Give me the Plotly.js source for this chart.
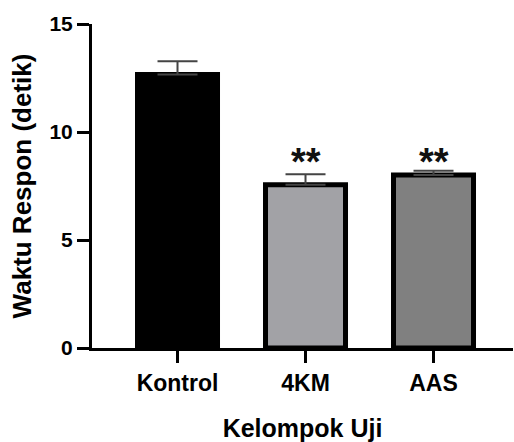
<!DOCTYPE html>
<html><head><meta charset="utf-8">
<script src="https://cdn.plot.ly/plotly-3.0.1.min.js"></script>
<style>html,body{margin:0;padding:0;background:#fff}#chart{width:514px;height:442px}</style>
</head><body><div id="chart"></div>
<script>
const categories = ['Kontrol', '4KM', 'AAS'];
const meanValues = [12.66, 7.56, 8.01];
const errorValues = [0.62, 0.48, 0.20];
const significance = ['', '**', '**'];
const significanceLevel = [8.62, 8.62, 8.62];
const yTickValues = [0, 5, 10, 15];
const yTickLabels = ['0', '5', '10', '15'];
const barColors = ['#000000', '#a2a2a6', '#808080'];

const FONT = 'Liberation Sans, Arial, sans-serif';

const trace = {
  type: 'bar',
  x: categories,
  y: meanValues,
  width: 0.625,
  marker: { color: barColors, line: { color: '#000000', width: 5 } },
  error_y: {
    type: 'data', array: errorValues, arrayminus: categories.map(() => 0),
    symmetric: false, color: '#444444', thickness: 2, width: 20
  },
  hoverinfo: 'none'
};

const annotations = categories.map((c, i) => ({
  x: c, y: significanceLevel[i], xref: 'x', yref: 'y',
  text: significance[i], showarrow: false,
  font: { family: FONT, size: 38, color: '#111111', weight: 'bold' },
  yanchor: 'middle'
})).filter(a => a.text);

const layout = {
  width: 514, height: 442,
  margin: { l: 92, r: 1, t: 24, b: 94 },
  paper_bgcolor: '#ffffff', plot_bgcolor: '#ffffff',
  showlegend: false,
  font: { family: FONT, color: '#000000' },
  xaxis: {
    type: 'category', range: [-0.668, 2.621], fixedrange: true,
    showline: true, linecolor: '#000000', linewidth: 3,
    ticks: 'outside', ticklen: 12, tickwidth: 3, tickcolor: '#000000',
    showgrid: false, zeroline: false,
    tickfont: { family: FONT, size: 23, color: '#000000', weight: 'bold' },
    title: { text: 'Kelompok Uji', standoff: 31,
      font: { family: FONT, size: 25, color: '#000000', weight: 'bold' } }
  },
  yaxis: {
    range: [0, 15], fixedrange: true,
    tickmode: 'array', tickvals: yTickValues, ticktext: yTickLabels,
    showline: true, linecolor: '#000000', linewidth: 3,
    ticks: 'outside', ticklen: 12, tickwidth: 3, tickcolor: '#000000',
    showgrid: false, zeroline: false,
    tickfont: { family: FONT, size: 21, color: '#000000', weight: 'bold' },
    title: { text: 'Waktu Respon (detik)', standoff: 11,
      font: { family: FONT, size: 26, color: '#000000', weight: 'bold' } }
  },
  annotations: annotations
};

Plotly.newPlot('chart', [trace], layout, { displayModeBar: false, staticPlot: true });
</script>
</body></html>
